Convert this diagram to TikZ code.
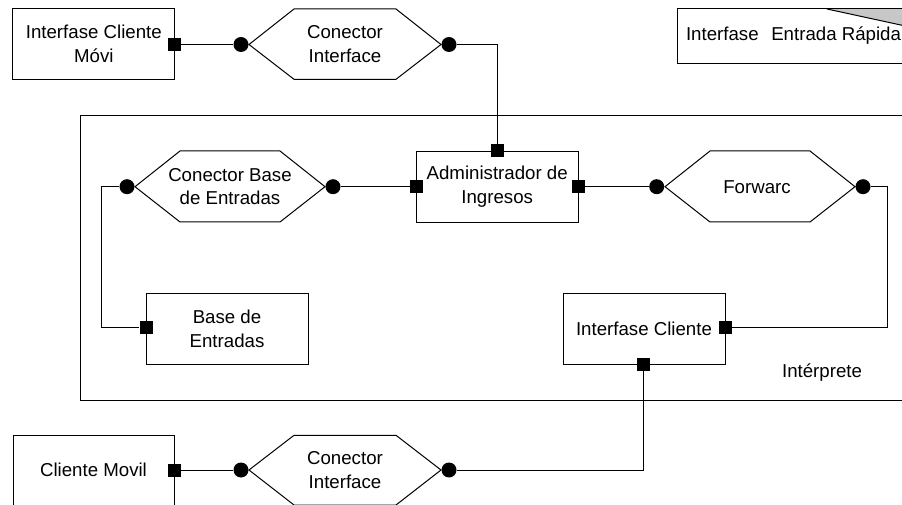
\documentclass[tikz,border=0pt]{standalone}
\usepackage{fontspec}
\setmainfont{Liberation Sans}
\tikzset{
  x=0.75pt,y=-0.75pt,
  comp/.style={draw=black,line width=0.75pt,fill=white,minimum width=121.5pt,minimum height=53pt,inner sep=0pt,align=center,font=\fontsize{14}{17.8}\selectfont},
  lbl/.style={inner sep=0pt,align=center,font=\fontsize{14}{17.8}\selectfont},
  port/.style={fill=black,draw=none,minimum size=9.75pt,inner sep=0pt,rectangle},
  role/.style={fill=black,draw=none,minimum size=11.25pt,inner sep=0pt,circle},
  wire/.style={draw=black,line width=0.75pt},
  hexe/.style={draw=black,line width=0.75pt,fill=white},
}
\begin{document}
\begin{tikzpicture}
\useasboundingbox (0,0) rectangle (902,505);
\clip (0,0) rectangle (902,505);
% Interpreter frame
\draw[wire] (903,115.7) -- (80.5,115.7) -- (80.5,400.5) -- (903,400.5);
\node[lbl] (interp) at (822,373) {Intérprete};
% Quick-entry interface, cut by the page edge
\draw[wire,fill=white] (903,9) -- (677,9) -- (677,64) -- (903,64);
\fill[black!22] (827,9) -- (903,25.5) -- (903,9) -- cycle;
\draw[wire] (827,9) -- (903,25.5);
\draw[wire] (827,9) -- (903,9);
\node[lbl] (quick) at (793.5,36) {Interfase\hspace{0.4em} Entrada Rápida};
% Components
\node[comp] (movil) at (93.8,44) {Interfase Cliente\\Móvi};
\node[comp] (admin) at (497.2,186.7) {Administrador de\\Ingresos};
\node[comp] (base) at (227,328.7) {Base de\\Entradas};
\node[comp] (cli) at (644,328.7) {Interfase Cliente};
\draw[wire,fill=white] (13.3,505.5) -- (13.3,435.3) -- (174.5,435.3) -- (174.5,505.5);
\node[lbl] (cmovil) at (93.5,470) {Cliente Movil};
% Connector hexagons
\draw[hexe] (249,44.5) -- (294,9) -- (396,9) -- (441,44.5) -- (396,79.3) -- (294,79.3) -- cycle;
\node[lbl] (h1) at (345,44) {Conector\\Interface};
\draw[hexe] (135,186.7) -- (180,151) -- (280,151) -- (325,186.7) -- (280,222) -- (180,222) -- cycle;
\node[lbl] (h2) at (230,186.7) {Conector Base\\de Entradas};
\draw[hexe] (665,186.7) -- (710,151) -- (810,151) -- (855,186.7) -- (810,222) -- (710,222) -- cycle;
\node[lbl] (h3) at (757,186.7) {Forwarc};
\draw[hexe] (249,470) -- (294,435.3) -- (396,435.3) -- (441,470) -- (396,505) -- (294,505) -- cycle;
\node[lbl] (h4) at (345,470) {Conector\\Interface};
% Ports
\node[port] (p1) at (174.5,44.5) {};
\node[port] (p2) at (497.2,151) {};
\node[port] (p3) at (416.5,186.7) {};
\node[port] (p4) at (578,186.7) {};
\node[port] (p5) at (146,327.5) {};
\node[port] (p6) at (725,327.5) {};
\node[port] (p7) at (643,364.5) {};
\node[port] (p8) at (174.5,470) {};
% Roles
\node[role] (r1) at (241,44.5) {};
\node[role] (r2) at (449,44.5) {};
\node[role] (r3) at (127,186.7) {};
\node[role] (r4) at (333,186.7) {};
\node[role] (r5) at (656.7,186.7) {};
\node[role] (r6) at (863,186.7) {};
\node[role] (r7) at (241,470) {};
\node[role] (r8) at (449,470) {};
% Wires
\draw[wire] (p1) -- (r1);
\draw[wire] (r2) -| (p2);
\draw[wire] (r4) -- (p3);
\draw[wire] (p4) -- (r5);
\draw[wire] (r3) -- ++(-26,0) |- (p5);
\draw[wire] (r6) -- ++(24,0) |- (p6);
\draw[wire] (p7) |- (r8);
\draw[wire] (p8) -- (r7);
\end{tikzpicture}
\end{document}
